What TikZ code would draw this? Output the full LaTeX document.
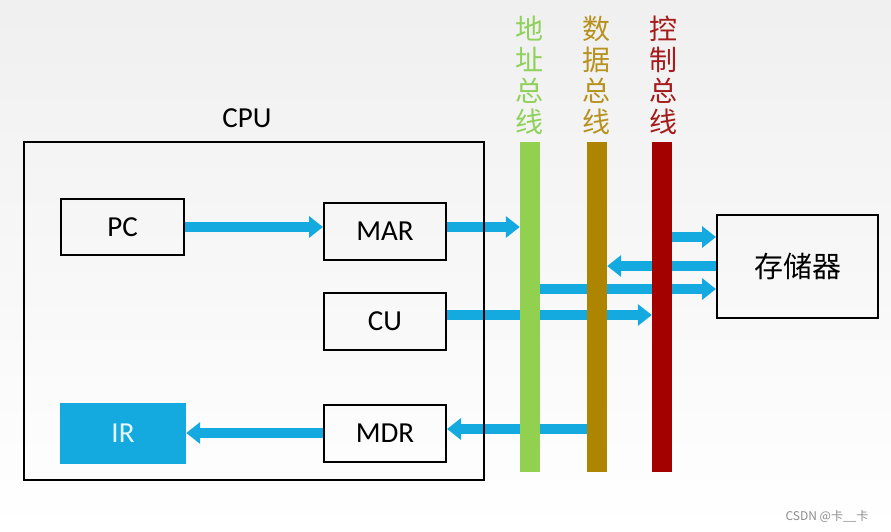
\documentclass[tikz,border=0pt]{standalone}
\usepackage{fontspec}
\setmainfont{Carlito}
\newfontfamily\cjk{Noto Sans CJK SC}
\usetikzlibrary{arrows.meta}
\pgfdeclarelayer{bg}
\pgfdeclarelayer{background}
\pgfsetlayers{bg,background,main}
\definecolor{arrowc}{HTML}{14AAE0}
\definecolor{addrc}{HTML}{92D050}
\definecolor{datac}{HTML}{AE8500}
\definecolor{ctrlc}{HTML}{A30000}
\definecolor{addrt}{HTML}{8FD15A}
\definecolor{datat}{HTML}{B8921E}
\definecolor{ctrlt}{HTML}{A51A1A}
\begin{document}
\begin{tikzpicture}[x=1pt,y=-1pt,
  box/.style={draw=black, line width=2pt, inner sep=0pt, minimum width=122pt, minimum height=57pt, font=\fontsize{29}{30}\selectfont},
  flow/.style={draw=arrowc, line width=10pt, -{Triangle[width=21pt,length=14pt]}},
  bus/.style={inner sep=0pt, minimum width=20pt, minimum height=330pt},
  buslabel/.style={align=center, inner sep=0pt, font=\cjk\fontsize{28}{31}\selectfont},
  lbl/.style={inner sep=0pt, font=\fontsize{29}{30}\selectfont}]
\begin{pgfonlayer}{bg}
  \shade[top color=black!6, bottom color=white, middle color=white!97!black] (0,0) rectangle (891,532);
\end{pgfonlayer}
\useasboundingbox (0,0) rectangle (891,532);

% CPU frame and label
\node[draw=black, line width=2.5pt, inner sep=0pt, minimum width=460pt, minimum height=338pt] (cpu) at (254,311) {};
\node[lbl] (cpulabel) at (247,118) {CPU};

% registers
\node[box, minimum width=123pt, minimum height=56pt] (pc) at (122.5,227) {PC};
\node[box] (mar) at (385,231.5) {MAR};
\node[box] (cu) at (385,321) {CU};
\node[box] (mdr) at (385,433) {MDR};
\node[inner sep=0pt, minimum width=126pt, minimum height=61pt, fill=arrowc, text=white!90!arrowc, font=\fontsize{29}{30}\selectfont] (ir) at (123,433.5) {IR};

% memory
\node[draw=black, line width=2pt, inner sep=0pt, minimum width=161pt, minimum height=103pt, font=\cjk\fontsize{29}{30}\selectfont] (mem) at (797.5,266.5) {存储器};

% buses
\node[bus, fill=addrc] (addr) at (530,307) {};
\node[bus, fill=datac] (data) at (597,307) {};
\node[bus, fill=ctrlc] (ctrl) at (662,307) {};

\node[buslabel, text=addrt] (addrl) at (529,75) {地\\址\\总\\线};
\node[buslabel, text=datat] (datal) at (596,75) {数\\据\\总\\线};
\node[buslabel, text=ctrlt] (ctrll) at (663,75) {控\\制\\总\\线};

% helper coordinates
\coordinate (m1) at ([yshift=29.5pt]mem.west);
\coordinate (m2) at ([yshift=0.5pt]mem.west);
\coordinate (m3) at ([yshift=-22.5pt]mem.west);
\coordinate (c1) at ([yshift=6pt]cu.east);
\coordinate (d1) at ([yshift=4pt]mdr.east);

% arrows (behind buses and frame)
\begin{pgfonlayer}{background}
  \draw[flow] (pc.east) -- (pc.east -| mar.west);
  \draw[flow] (pc.east -| mar.east) -- (pc.east -| addr.west);
  \draw[flow] (m1 -| ctrl.east) -- (m1);
  \draw[flow] (m2) -- (m2 -| data.east);
  \draw[flow] (m3 -| addr.east) -- (m3);
  \draw[flow] (c1) -- (c1 -| ctrl.west);
  \draw[flow] (d1 -| data.west) -- (d1);
  \draw[flow] (mdr.west) -- (mdr.west -| ir.east);
\end{pgfonlayer}

% watermark
\node[inner sep=0pt, text=black!45, font=\cjk\fontsize{12}{13}\selectfont] (wm) at (827,516) {CSDN @卡\_\_卡};
\end{tikzpicture}
\end{document}
